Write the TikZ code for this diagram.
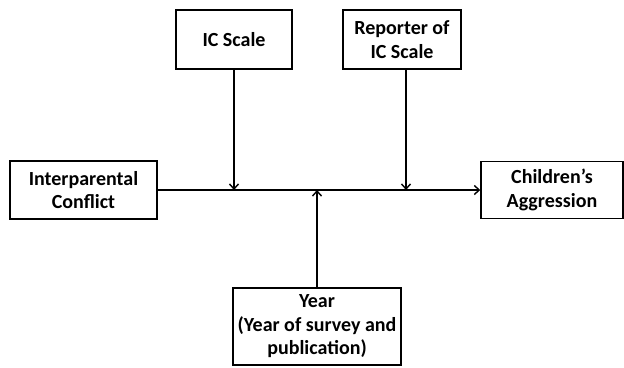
\documentclass[tikz,border=0pt]{standalone}
\usepackage{fontspec}
\setmainfont{Carlito}
\usepackage{tikz}
\usetikzlibrary{positioning, arrows.meta}

\tikzset{
  var/.style={draw, line width=1.4pt, align=center, inner sep=2pt,
    font=\fontsize{20}{23.5}\selectfont\bfseries},
  link/.style={line width=1.4pt, -{Straight Barb[length=5pt,width=9pt,line width=1.4pt]}}
}

\begin{document}
\begin{tikzpicture}[x=1pt, y=-1pt]
\useasboundingbox (0,0) rectangle (624,367);
% boxes
\node[var, minimum width=147pt, minimum height=58pt] (ipc) at (83.5,190) {Interparental\\Conflict};
\node[var, minimum width=142pt, minimum height=57pt] (child) at (552,190) {Children’s\\Aggression};
\node[var, minimum width=116pt, minimum height=59pt] (ic) at (234,39.5) {IC Scale};
\node[var, minimum width=118pt, minimum height=59pt] (rep) at (402,39.5) {Reporter of\\IC Scale};
\node[var, minimum width=168pt, minimum height=77pt] (year) at (317,326.5) {Year\\(Year of survey and\\publication)};
% main path
\draw[link] (ipc.east) -- (child.west);
% moderators
\draw[link] (ic.south) -- (ic.south |- ipc.east);
\draw[link] ([xshift=4pt]rep.south) -- ([xshift=4pt]rep.south |- ipc.east);
\draw[link] (year.north) -- (year.north |- ipc.east);
\end{tikzpicture}
\end{document}
